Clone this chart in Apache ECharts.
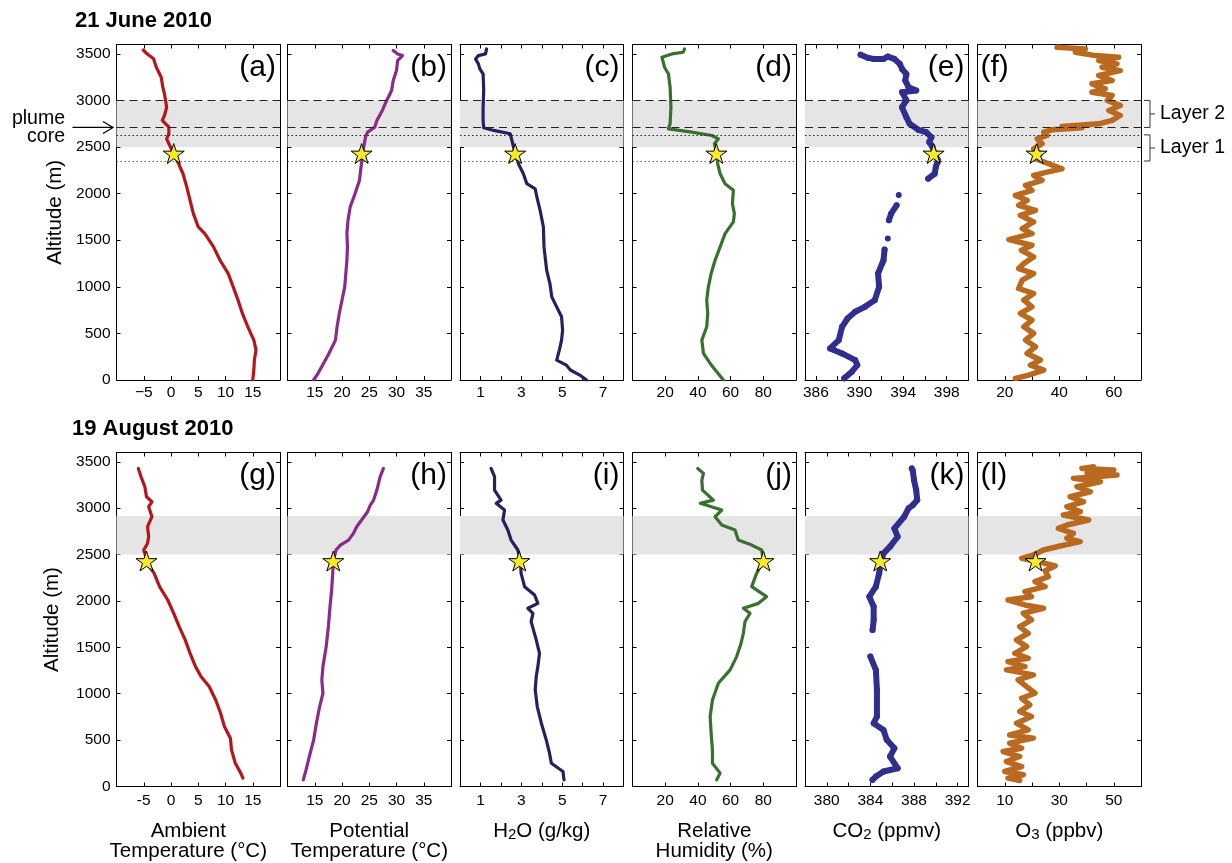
<!DOCTYPE html>
<html>
<head>
<meta charset="utf-8">
<script src="https://cdn.jsdelivr.net/npm/echarts@6/dist/echarts.min.js"></script>
<style>
html, body { margin: 0; padding: 0; background: #fff; }
#main { width: 1232px; height: 863px; }
</style>
</head>
<body>
<div id="main"></div>
<script>
// ---- 21 June 2010 ----
const altA = [3541,3500,3446,3356,3249,3142,3070,3000,2927,2838,2785,2713,2642,2588,2499,2420,2320,2213,2070,1928,1785,1642,1571,1428,1285,1142,1000,857,714,571,428,321,214,107,0]
const tempA = [-5.1,-4.4,-3.2,-2.7,-1.8,-1.5,-1.2,-1.0,-0.8,-1.2,-1.6,-0.4,-0.4,-0.8,-0.1,0.5,1.4,2.2,2.9,3.5,4.1,5.0,6.2,7.8,9.0,10.5,11.4,12.3,13.1,14.1,15.2,15.6,15.3,15.2,15.0]

const altB = [3535,3499,3481,3427,3320,3213,3106,3000,2892,2785,2713,2660,2606,2535,2410,2285,2142,2000,1856,1714,1571,1428,1285,1142,1000,857,714,571,428,285,178,71,0]
const thetaB = [29.4,30.2,31.1,30.2,30.0,29.4,29.1,28.2,27.4,26.4,26.0,24.7,24.3,24.1,23.7,23.5,23.2,22.4,21.5,21.1,20.9,21.0,20.9,20.7,20.5,20.0,19.5,19.1,18.8,17.6,16.6,15.6,14.8]

const altC = [3552,3499,3481,3445,3392,3338,3284,3106,2927,2785,2706,2678,2642,2570,2427,2320,2213,2106,2052,1964,1821,1642,1428,1178,1035,892,785,678,535,428,321,214,160,107,53,0]
const h2oC = [1.3,1.25,0.9,0.76,0.9,0.97,1.13,1.16,1.13,1.13,1.16,1.65,2.46,2.54,2.7,2.86,3.1,3.27,3.68,3.76,3.92,4.08,4.11,4.24,4.4,4.49,4.73,4.97,5.02,4.97,4.86,4.73,5.2,5.4,5.86,6.19]

const altD = [3552,3517,3499,3463,3356,3284,3142,2927,2749,2695,2660,2624,2588,2535,2427,2320,2213,2106,2035,1892,1785,1696,1571,1428,1285,1142,1000,857,714,571,428,285,178,89,0]
const rhD = [31.8,31,24.1,18,19.6,22,23,23.5,23,22,36.3,48.5,52.5,50.1,51.5,52.1,53.6,56.6,61.7,61.1,62.3,61.7,56.6,53.6,50.5,48.1,46.4,45.4,46,45.4,42.4,43.4,47.5,51.5,55.6]

const altE = [3491,3456,3445,3445,3445,3470,3445,3392,3338,3284,3213,3142,3106,3088,3000,2927,2820,2749,2685,2660,2606,2553,2499,2427,2356,2285,2213,2160,null,1985,null,1874,1785,1714,null,1517,null,1399,1285,1142,1000,857,785,732,660,571,428,339,285,214,160,89,18]
const co2E = [390.1,390.8,391.3,391.7,392.2,392.6,393.2,393.7,393.9,394.3,394.2,394.5,395.2,393.9,394.3,393.9,394.3,394.6,395.4,396.1,396.6,396.4,396.7,396.9,397.2,397.0,396.9,396.3,null,393.6,null,393.4,392.9,392.7,null,392.6,null,392.3,392.2,391.7,391.8,391.4,390.5,389.6,388.9,388.4,388.1,387.3,388.4,389.6,389.8,389.3,388.6]

const altF = [3570,3552,3517,3481,3463,3427,3392,3356,3320,3267,3213,3178,3124,3088,3053,3000,2945,2892,2838,2785,2749,2731,2720,2706,2685,2660,2624,2588,2535,2481,2427,2374,2320,2267,2231,2196,2142,2088,2035,1981,1928,1874,1821,1767,1696,1624,1571,1506,1446,1392,1321,1250,1196,1142,1071,982,928,857,785,714,642,571,500,428,357,285,214,160,107,53,18]
const o3F = [39.2,49.6,45.9,53.3,61.8,54.5,61.2,55.7,62.4,54.5,59.4,52.0,56.9,52.0,59.4,57.6,62.4,58.2,62.4,59.4,54.5,45.9,41.0,48.4,37.4,34.3,35.5,31.9,33.7,30.6,33.1,31.3,36.1,41.0,35.5,30.6,33.7,27.6,30.0,23.9,28.2,25.1,31.3,25.7,30.6,26.4,30.0,21.5,30.0,26.1,30.6,27.0,25.1,30.6,26.4,25.1,30.6,27.0,30.0,25.7,30.0,27.0,30.6,27.6,31.3,28.2,33.1,29.4,34.3,28.8,23.9]

// ---- 19 August 2010 ----
const altG = [3428,3339,3231,3123,3069,3016,2908,2800,2693,2621,2549,2477,2423,2298,2154,2010,1867,1723,1580,1436,1292,1185,1077,933,790,646,521,395,251,144,90]
const tempG = [-6.0,-5.5,-4.8,-4.5,-3.5,-4.1,-3.5,-4.3,-4.1,-4.3,-5.0,-4.6,-4.6,-3.1,-2.1,-0.6,0.5,1.5,2.6,3.5,4.5,5.5,7.0,8.2,9.1,9.8,10.9,11.1,11.8,12.8,13.2]

const altH = [3428,3339,3195,3087,3034,2962,2872,2800,2728,2656,2602,2549,2430,2297,2118,1939,1723,1508,1292,1149,1005,862,682,503,323,180,72]
const thetaH = [27.6,27.0,26.4,25.8,25.2,24.7,23.6,22.7,22.1,21.2,19.7,18.9,18.4,18.3,18.1,17.8,17.5,17.1,16.5,16.3,16.5,15.9,15.3,14.8,14.0,13.4,12.9]

const altI = [3428,3339,3195,3087,3052,2980,2872,2764,2656,2549,2430,2297,2154,2064,1974,1921,1867,1777,1580,1436,1292,1185,1041,862,682,503,359,251,162,72]
const h2oI = [1.52,1.69,1.69,2.01,1.77,2.18,2.1,2.34,2.5,2.83,2.96,2.99,3.16,3.65,3.81,3.32,3.57,3.48,3.73,3.89,3.81,3.73,3.68,3.78,3.98,4.22,4.38,4.47,5.04,5.09]

const altJ = [3428,3375,3303,3195,3087,3052,2980,2908,2818,2764,2656,2602,2549,2430,2297,2154,2046,1974,1921,1867,1777,1651,1544,1400,1257,1113,933,754,574,395,251,144,72]
const rhJ = [39.9,43.4,42.4,42.8,49.5,41.4,54.6,50.5,54.6,62.7,64.7,72.9,79,80,75.9,72.9,82,77,67.8,71.9,68.8,67.8,66.4,63.7,59.7,52.5,48.9,47.5,48.1,48.9,48.9,53.6,51.5]

const altK = [3428,3400,3303,3195,3087,3034,2998,2908,2782,2692,2585,2513,2430,2297,2154,2046,1939,1795,1687,null,1400,1257,1041,754,682,610,503,413,323,197,162,108,72]
const co2K = [387.8,387.9,388.0,388.2,388.3,387.9,387.5,387.1,386.2,386.5,385.8,385.2,385.0,384.8,384.5,383.9,384.3,384.3,384.2,null,384.0,384.5,384.6,384.6,384.3,385.2,385.5,386.2,385.8,386.5,385.2,384.5,384.2]

const altL = [3446,3428,3411,3375,3357,3321,3285,3231,3177,3123,3069,3016,2962,2926,2872,2818,2782,2728,2675,2639,2592,2549,2495,2459,2423,2377,2326,2262,2208,2154,2100,2046,2010,1957,1921,1867,1795,1723,1651,1580,1508,1436,1382,1346,1292,1257,1203,1149,1077,1005,951,880,808,754,682,610,556,521,467,413,377,323,269,215,162,126,90,65]
const o3L = [42.6,38.3,50.0,40.2,51.2,35.2,45.1,36.5,41.4,34.0,38.9,32.8,37.7,31.5,40.8,32.8,29.7,35.2,32.8,37.7,30.3,24.2,20.5,16.2,22.3,28.5,24.8,26.0,21.1,24.8,17.4,19.8,11.2,17.4,24.2,16.8,19.8,15.5,18.6,14.3,18.0,13.7,18.6,11.2,17.4,10.6,20.5,14.9,18.0,21.1,16.2,19.2,15.5,19.8,14.3,18.6,11.8,20.5,11.8,16.2,9.4,15.5,10.6,16.2,10.0,16.8,11.2,15.5]

// 星号位置 (plume sample)
const starAlt = [2430, 2430]
const starTop = [0.5, 23.6, 2.7, 51.3, 396.8, 31.7]
const starBot = [-4.5, 18.4, 2.9, 80.1, 384.9, 21.3]

// 灰色层 and reference lines
const bandTop = [2500, 3000]
const bandBot = [2500, 2915]
const dashedAlts = [3000, 2710]
const dottedAlts = [2630, 2350]

const altTicks = [0, 500, 1000, 1500, 2000, 2500, 3000, 3500]

const FONT = 'Liberation Sans, Arial, Helvetica, sans-serif'
const GL = [116.5, 287.5, 460, 632.5, 805, 977.5]
const GW = 163.5
const ROW_TOP = [44.5, 452.5]
const ROW_H = [335.5, 334]
const STAR = 'path://M50,2L61.2,36.2L97.6,36.2L68.2,57.6L79.4,92.1L50,70.8L20.6,92.1L31.8,57.6L2.4,36.2L38.8,36.2Z'

const RED = '#b5161c', PURPLE = '#8b2a89', NAVY = '#25215e', GREEN = '#37712d', BLUE = '#302f8f', ORANGE = '#b96a20'

const panels = [
  {alt: altA, val: tempA, color: RED, lw: 3.2, range: [-10, 20], ticks: [-5, 0, 5, 10, 15], labels: [-5, 0, 5, 10, 15], tag: '(a)'},
  {alt: altB, val: thetaB, color: PURPLE, lw: 3.2, range: [10, 40], ticks: [15, 20, 25, 30, 35], labels: [15, 20, 25, 30, 35], tag: '(b)'},
  {alt: altC, val: h2oC, color: NAVY, lw: 3.2, range: [0, 8], ticks: [1, 2, 3, 4, 5, 6, 7], labels: [1, 3, 5, 7], tag: '(c)'},
  {alt: altD, val: rhD, color: GREEN, lw: 3.2, range: [0, 100], ticks: [20, 40, 60, 80], labels: [20, 40, 60, 80], tag: '(d)'},
  {alt: altE, val: co2E, color: BLUE, lw: 6, dots: true, range: [385, 400], ticks: [386, 388, 390, 392, 394, 396, 398], labels: [386, 390, 394, 398], tag: '(e)'},
  {alt: altF, val: o3F, color: ORANGE, lw: 5.5, range: [10, 70], ticks: [20, 30, 40, 50, 60], labels: [20, 40, 60], tag: '(f)', tagLeft: true},
  {alt: altG, val: tempG, color: RED, lw: 3.2, range: [-10, 20], ticks: [-5, 0, 5, 10, 15], labels: [-5, 0, 5, 10, 15], tag: '(g)', name: 'Ambient\nTemperature (°C)', namePad: [0, 20, 0, 0]},
  {alt: altH, val: thetaH, color: PURPLE, lw: 3.2, range: [10, 40], ticks: [15, 20, 25, 30, 35], labels: [15, 20, 25, 30, 35], tag: '(h)', name: 'Potential\nTemperature (°C)'},
  {alt: altI, val: h2oI, color: NAVY, lw: 3.2, range: [0, 8], ticks: [1, 2, 3, 4, 5, 6, 7], labels: [1, 3, 5, 7], tag: '(i)', name: 'H{sub|2}O (g/kg)'},
  {alt: altJ, val: rhJ, color: GREEN, lw: 3.2, range: [0, 100], ticks: [20, 40, 60, 80], labels: [20, 40, 60, 80], tag: '(j)', name: 'Relative\nHumidity (%)'},
  {alt: altK, val: co2K, color: BLUE, lw: 6, dots: true, range: [378, 393], ticks: [380, 382, 384, 386, 388, 390, 392], labels: [380, 384, 388, 392], tag: '(k)', name: 'CO{sub|2} (ppmv)'},
  {alt: altL, val: o3L, color: ORANGE, lw: 5.5, range: [0, 60], ticks: [10, 20, 30, 40, 50], labels: [10, 30, 50], tag: '(l)', tagLeft: true, name: 'O{sub|3} (ppbv)'}
]

let myChart = echarts.init(document.getElementById('main'))

let grid = [], xAxis = [], yAxis = [], series = [], graphic = []

let axisLine = () => ({show: true, onZero: false, lineStyle: {color: '#000', width: 1}})
let tick = vals => ({show: true, inside: true, length: 4, customValues: vals, lineStyle: {color: '#000', width: 1}})

panels.forEach((p, i) => {
  let row = i < 6 ? 0 : 1
  let col = i % 6
  grid.push({left: GL[col], top: ROW_TOP[row], width: GW, height: ROW_H[row]})

  // x 轴 (bottom + top mirror)
  xAxis.push({
    gridIndex: i, type: 'value', position: 'bottom', min: p.range[0], max: p.range[1],
    splitLine: {show: false}, axisLine: axisLine(), axisTick: tick(p.ticks),
    axisLabel: {
      customValues: p.labels, color: '#000', fontSize: 15.5, fontFamily: FONT, margin: row ? 6 : 5,
      formatter: v => (v < 0 ? (row ? '-' : '\u2212') + (-v) : String(v))
    },
    name: p.name || '', nameLocation: 'middle', nameGap: 35,
    nameTextStyle: {
      color: '#000', fontSize: 20.5, fontFamily: FONT, lineHeight: 20, padding: p.namePad || 0,
      rich: {sub: {fontSize: 15, fontFamily: FONT, color: '#000', lineHeight: 20, padding: [7, 0, 0, 0]}}
    }
  })
  xAxis.push({
    gridIndex: i, type: 'value', position: 'top', min: p.range[0], max: p.range[1],
    splitLine: {show: false}, axisLine: axisLine(), axisTick: tick(p.ticks), axisLabel: {show: false}
  })

  // y 轴 (left + right mirror)
  yAxis.push({
    gridIndex: i, type: 'value', position: 'left', min: 0, max: 3600,
    splitLine: {show: false}, axisLine: axisLine(), axisTick: tick(altTicks),
    axisLabel: {show: col === 0, customValues: altTicks, color: '#000', fontSize: 15.5, fontFamily: FONT, margin: 6, formatter: v => String(v)},
    name: col === 0 ? 'Altitude (m)' : '', nameLocation: 'middle', nameGap: row ? 54 : 51,
    nameTextStyle: {color: '#000', fontSize: 20.5, fontFamily: FONT}
  })
  yAxis.push({
    gridIndex: i, type: 'value', position: 'right', min: 0, max: 3600,
    splitLine: {show: false}, axisLine: axisLine(), axisTick: tick(altTicks), axisLabel: {show: false}
  })

  let band = row ? bandBot : bandTop
  let lineSeries = {
    type: 'line', xAxisIndex: 2 * i, yAxisIndex: 2 * i, z: 2,
    data: p.alt.map((a, k) => [p.val[k], a]),
    showSymbol: !!p.dots, showAllSymbol: true, symbol: 'circle', symbolSize: p.lw,
    itemStyle: {color: p.color},
    lineStyle: {color: p.color, width: p.lw, cap: 'round', join: 'round'},
    silent: true,
    markArea: {silent: true, itemStyle: {color: '#e5e5e5'}, data: [[{yAxis: band[0]}, {yAxis: band[1]}]]}
  }
  if (row === 0) {
    lineSeries.markLine = {
      silent: true, symbol: ['none', 'none'], label: {show: false},
      data: [
        ...dashedAlts.map(a => ({yAxis: a, lineStyle: {type: [8, 5], color: '#222', width: 1}})),
        ...dottedAlts.map((a, k) => ({yAxis: a, lineStyle: {type: [1.5, 2.5], color: k ? '#666' : '#222', width: 1.2}}))
      ]
    }
  }
  series.push(lineSeries)

  series.push({
    type: 'scatter', xAxisIndex: 2 * i, yAxisIndex: 2 * i, z: 10, silent: true,
    data: [[row ? starBot[col] : starTop[col], starAlt[row]]],
    symbol: STAR, symbolKeepAspect: true, symbolSize: 21,
    itemStyle: {color: '#f7ea2b', borderColor: '#000', borderWidth: 1, opacity: 1}
  })

  // panel tag
  graphic.push({
    type: 'text', z: 20,
    x: p.tagLeft ? GL[col] + 3 : GL[col] + GW - 4,
    y: ROW_TOP[row] + 23,
    style: {text: p.tag, fill: '#000', fontSize: 30, fontFamily: FONT, align: p.tagLeft ? 'left' : 'right', verticalAlign: 'middle'}
  })
})

graphic.push({type: 'text', x: 75, y: 20.5, style: {text: '21 June 2010', fill: '#000', fontSize: 22, fontWeight: 'bold', fontFamily: FONT, align: 'left', verticalAlign: 'middle'}})
graphic.push({type: 'text', x: 72, y: 429, style: {text: '19 August 2010', fill: '#000', fontSize: 22, fontWeight: 'bold', fontFamily: FONT, align: 'left', verticalAlign: 'middle'}})

myChart.setOption({
  animation: false,
  textStyle: {fontFamily: FONT},
  grid, xAxis, yAxis, series, graphic
})

// 注释: plume core arrow + layer brackets, placed through the axis scale
let yPix = alt => myChart.convertToPixel({yAxisIndex: 0}, alt)
let yCore = yPix(dashedAlts[1])
let extra = [
  {type: 'line', shape: {x1: 72.5, y1: yCore, x2: 113, y2: yCore}, style: {stroke: '#000', lineWidth: 1.3}},
  {type: 'polyline', shape: {points: [[103, yCore - 6], [113, yCore], [103, yCore + 6]]}, style: {stroke: '#000', lineWidth: 1.3, fill: null}},
  {type: 'text', x: 65, y: yCore, style: {text: 'plume\ncore', fill: '#000', fontSize: 19.5, lineHeight: 18, fontFamily: FONT, align: 'right', verticalAlign: 'middle'}}
]
let brackets = [[dashedAlts[0], dashedAlts[1], 'Layer 2'], [dottedAlts[0], dottedAlts[1], 'Layer 1']]
let bx = GL[5] + GW + 9
brackets.forEach(b => {
  let y1 = yPix(b[0]), y2 = yPix(b[1]), ym = (y1 + y2) / 2
  extra.push({type: 'polyline', shape: {points: [[bx - 6, y1], [bx, y1], [bx, y2], [bx - 6, y2]]}, style: {stroke: '#333', lineWidth: 1, fill: null}})
  extra.push({type: 'line', shape: {x1: bx, y1: ym, x2: bx + 5, y2: ym}, style: {stroke: '#333', lineWidth: 1}})
  extra.push({type: 'text', x: bx + 10, y: ym, style: {text: b[2], fill: '#000', fontSize: 19.5, fontFamily: FONT, align: 'left', verticalAlign: 'middle'}})
})

myChart.setOption({graphic: graphic.concat(extra)})
</script>
</body>
</html>
